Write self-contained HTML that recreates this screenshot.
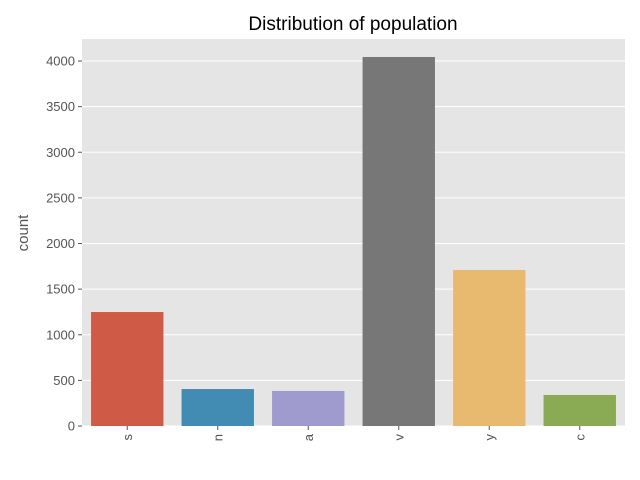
<!DOCTYPE html>
<html><head><meta charset="utf-8"><style>body{margin:0;background:#fff}svg{display:block;font-family:"Liberation Sans","DejaVu Sans",sans-serif}</style></head>
<body>
<svg id="chart" width="640" height="480" xmlns="http://www.w3.org/2000/svg">
<rect x="82" y="39" width="543" height="387" fill="#e5e5e5"/>
<g id="grid"></g><g id="bars"></g><g id="axes"></g>
<text x="353" y="30" font-size="19" text-anchor="middle" fill="#000">Distribution of population</text>
<text transform="translate(28,233) rotate(-90)" font-size="15" text-anchor="middle" fill="#555">count</text>
</svg>
<script>
const categories=['s','n','a','v','y','c'];
const counts=[1249,405,384,4044,1710,340];
const yTicks=[0,500,1000,1500,2000,2500,3000,3500,4000];
const colors=['#cf5b46','#428bb2','#a09bcf','#777777','#e8ba70','#8aab53'];
const NS='http://www.w3.org/2000/svg';
const x0=82,x1=625,y0=426,pxPer=365/4000;
const band=(x1-x0)/categories.length;
const yS=v=>y0-v*pxPer;
const xS=i=>x0+band*i;
function mk(t,a,p){const e=document.createElementNS(NS,t);for(const k in a)e.setAttribute(k,a[k]);document.getElementById(p).appendChild(e);return e;}
yTicks.forEach(v=>{
 const l=mk('line',{x1:x0,x2:x1,y1:yS(v),y2:yS(v),stroke:'#fff','stroke-width':1},'grid');
 
 
 const tk=mk('line',{x1:x0-4,x2:x0,y1:yS(v),y2:yS(v),stroke:'#555'},'axes');
 
 
 const t=mk('text',{x:x0-7,y:yS(v)+4.5,'font-size':13,'text-anchor':'end',fill:'#555'},'axes');
 t.textContent=v;
 
 
});
categories.forEach((c,i)=>{
 const bw=band*0.8,bx=xS(i)+band*0.1;
 const r=mk('rect',{x:bx,y:yS(counts[i]),width:bw,height:y0-yS(counts[i]),fill:colors[i]},'bars');
 
 
 const cx=xS(i)+band/2;
 const tk=mk('line',{x1:cx,x2:cx,y1:y0,y2:y0+4,stroke:'#555'},'axes');
 
 
 const t=mk('text',{transform:`translate(${cx+4.5},${y0+8}) rotate(-90)`,'font-size':13,'text-anchor':'end',fill:'#555'},'axes');
 t.textContent=c;
 
 
});
</script>
</body></html>
